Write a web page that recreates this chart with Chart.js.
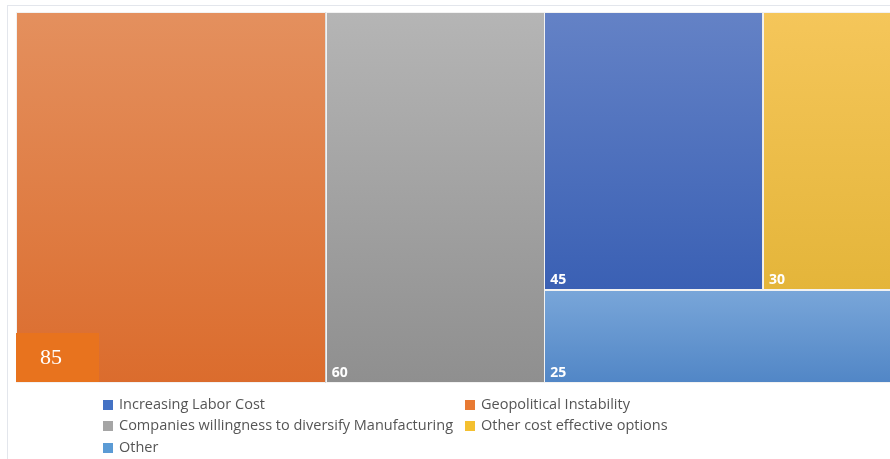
<!DOCTYPE html>
<html>
<head>
<meta charset="utf-8">
<script src="https://cdn.jsdelivr.net/npm/chart.js@4/dist/chart.umd.min.js"></script>
<style>
html,body{margin:0;padding:0;background:#ffffff;overflow:hidden;}
canvas{display:block;}
</style>
</head>
<body>
<canvas id="c" width="890" height="459"></canvas>
<script>
// ---- data ----
const categories = [
  'Geopolitical Instability',
  'Companies willingness to diversify Manufacturing',
  'Increasing Labor Cost',
  'Other cost effective options',
  'Other'
];
const values = [85, 60, 45, 30, 25];
const legendOrder = [
  'Increasing Labor Cost',
  'Geopolitical Instability',
  'Companies willingness to diversify Manufacturing',
  'Other cost effective options',
  'Other'
];
const calloutValue = 85;

// ---- styles ----
const gradTop = ['#e4905e', '#b5b5b5', '#6482c6', '#f5c65a', '#79a6d9'];
const gradBottom = ['#db6c2d', '#8f8f8f', '#3a60b4', '#e4b53a', '#5186c6'];
const swatch = ['#e87a33', '#a5a5a5', '#4472c4', '#f4c030', '#5b9bd5'];
// the plot continues a little past the right edge of the picture (it is cropped)
const xVisibleMax = 0.978;

function worst(row, side) {
  const s = row.reduce((a, b) => a + b, 0);
  let mx = -Infinity, mn = Infinity;
  row.forEach(r => { mx = Math.max(mx, r); mn = Math.min(mn, r); });
  return Math.max(side * side * mx / (s * s), (s * s) / (side * side * mn));
}

function squarify(vals, W, H) {
  const total = vals.reduce((a, b) => a + b, 0);
  const areas = vals.map(v => v * W * H / total);
  const out = [];
  let rect = { x: 0, y: 0, w: W, h: H };
  let row = [], idx = [];
  function layoutRow() {
    const s = row.reduce((a, b) => a + b, 0);
    if (rect.w >= rect.h) {
      const cw = s / rect.h;
      let yy = rect.y;
      row.forEach((a, k) => {
        const hh = a / cw;
        out[idx[k]] = { x: rect.x, y: yy, w: cw, h: hh };
        yy += hh;
      });
      rect = { x: rect.x + cw, y: rect.y, w: rect.w - cw, h: rect.h };
    } else {
      const rh = s / rect.w;
      let xx = rect.x;
      row.forEach((a, k) => {
        const ww = a / rh;
        out[idx[k]] = { x: xx, y: rect.y, w: ww, h: rh };
        xx += ww;
      });
      rect = { x: rect.x, y: rect.y + rh, w: rect.w, h: rect.h - rh };
    }
    row = []; idx = [];
  }
  areas.forEach((a, i) => {
    const side = Math.min(rect.w, rect.h);
    if (row.length === 0 || worst(row.concat([a]), side) <= worst(row, side)) {
      row.push(a); idx.push(i);
    } else {
      layoutRow();
      row.push(a); idx.push(i);
    }
  });
  if (row.length) layoutRow();
  return out;
}

const treemapPlugin = {
  id: 'treemap',
  beforeDraw(chart) {
    const ctx = chart.ctx;
    ctx.save();
    ctx.fillStyle = '#ffffff';
    ctx.fillRect(0, 0, chart.width, chart.height);
    ctx.strokeStyle = '#e3e6ec';
    ctx.lineWidth = 1;
    ctx.strokeRect(7.5, 5.5, chart.width + 10, chart.height + 10);
    ctx.restore();
  },
  afterDatasetsDraw(chart) {
    const ctx = chart.ctx;
    const xs = chart.scales.x, ys = chart.scales.y;
    const pxW = xs.getPixelForValue(1) - xs.getPixelForValue(0);
    const pxH = ys.getPixelForValue(1) - ys.getPixelForValue(0);
    const k = pxW / pxH;
    const rects = squarify(values, k, 1);
    ctx.save();
    rects.forEach((r, i) => {
      const x0 = xs.getPixelForValue(r.x / k);
      const x1 = xs.getPixelForValue((r.x + r.w) / k);
      const y0 = ys.getPixelForValue(r.y);
      const y1 = ys.getPixelForValue(r.y + r.h);
      const g = ctx.createLinearGradient(0, y0, 0, y1);
      g.addColorStop(0, gradTop[i]);
      g.addColorStop(1, gradBottom[i]);
      ctx.fillStyle = g;
      ctx.fillRect(x0, y0, x1 - x0, y1 - y0);
      ctx.strokeStyle = '#f2f2f2';
      ctx.lineWidth = 1;
      ctx.strokeRect(Math.round(x0) + 0.5, Math.round(y0) + 0.5, Math.round(x1 - x0) - 1, Math.round(y1 - y0) - 1);
      ctx.fillStyle = '#ffffff';
      ctx.font = 'bold 14px "Open Sans", sans-serif';
      ctx.textAlign = 'left';
      ctx.textBaseline = 'alphabetic';
      ctx.fillText(String(values[i]), x0 + 6, y1 - 6);
    });
    // callout box over the largest cell
    const r0 = rects[0];
    const bx = xs.getPixelForValue(r0.x / k);
    const by = ys.getPixelForValue(r0.y + r0.h);
    ctx.fillStyle = '#e8731e';
    ctx.fillRect(bx, by - 50, 83, 49);
    ctx.fillStyle = '#ffffff';
    ctx.font = '22px "Liberation Serif", serif';
    ctx.textAlign = 'left';
    ctx.textBaseline = 'middle';
    ctx.fillText(String(calloutValue), bx + 24, by - 25);
    // legend
    ctx.font = '14.5px "Open Sans", sans-serif';
    ctx.textBaseline = 'middle';
    const colX = [103, 465];
    const rowY = [405, 426, 448];
    legendOrder.forEach((name, j) => {
      const ci = categories.indexOf(name);
      const cx = colX[j % 2];
      const cy = rowY[Math.floor(j / 2)];
      ctx.fillStyle = swatch[ci];
      ctx.fillRect(cx, cy - 5, 10, 10);
      ctx.fillStyle = '#555555';
      ctx.fillText(name, cx + 16, cy);
    });
    ctx.restore();
  }
};

new Chart(document.getElementById('c'), {
  type: 'scatter',
  data: {
    datasets: categories.map((c, i) => ({ label: c, data: [], backgroundColor: swatch[i] }))
  },
  options: {
    responsive: false,
    animation: false,
    layout: { padding: { left: 16, top: 12, right: 1, bottom: 76 } },
    scales: {
      x: { type: 'linear', min: 0, max: xVisibleMax, display: false },
      y: { type: 'linear', min: 0, max: 1, reverse: true, display: false }
    },
    plugins: { legend: { display: false }, tooltip: { enabled: false } }
  },
  plugins: [treemapPlugin]
});
</script>
</body>
</html>
